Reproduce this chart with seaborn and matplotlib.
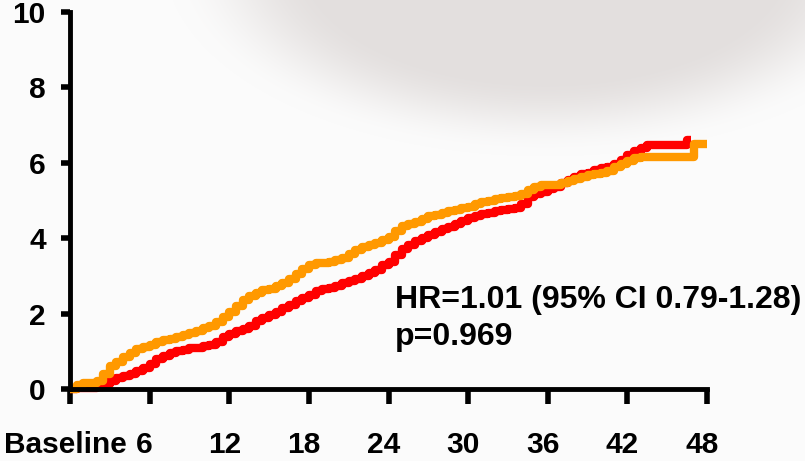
import numpy as np
import pandas as pd
import matplotlib
matplotlib.use("Agg")
import matplotlib.pyplot as plt
import matplotlib.transforms as mtransforms
import seaborn as sns

# Cumulative incidence (%) by month for the two treatment arms
months_a = [0, 0.5, 1, 1.5, 2, 2.5, 3, 3.5, 4, 4.5, 5, 5.5, 6, 6.5, 7, 7.5, 8, 8.5,
            9, 9.5, 10, 10.5, 11, 11.5, 12, 12.5, 13, 13.5, 14, 14.5, 15, 15.5,
            16, 16.5, 17, 17.5, 18, 18.5, 19, 19.5, 20, 20.5, 21, 21.5, 22, 22.5,
            23, 23.5, 24, 24.5, 25, 25.5, 26, 26.5, 27, 27.5, 28, 28.5, 29, 29.5,
            30, 30.5, 31, 31.5, 32, 32.5, 33, 33.5, 34, 34.5, 35, 35.5, 36, 36.5,
            37, 37.5, 38, 38.5, 39, 39.5, 40, 40.5, 41, 41.5, 42, 42.5, 43, 43.5,
            44, 44.5, 45, 45.5, 46, 46.5, 46.8]
incidence_a = [0.00, 0.02, 0.03, 0.03, 0.05, 0.14, 0.22, 0.28, 0.34, 0.41, 0.48, 0.56,
               0.67, 0.79, 0.88, 0.95, 1.00, 1.04, 1.08, 1.10, 1.13, 1.16, 1.24, 1.37,
               1.46, 1.53, 1.59, 1.68, 1.80, 1.88, 1.96, 2.04, 2.14, 2.24, 2.33, 2.41,
               2.49, 2.60, 2.65, 2.67, 2.72, 2.80, 2.86, 2.92, 2.99, 3.08, 3.16, 3.28,
               3.38, 3.55, 3.72, 3.82, 3.92, 4.00, 4.08, 4.16, 4.24, 4.31, 4.38, 4.46,
               4.53, 4.60, 4.65, 4.68, 4.72, 4.75, 4.78, 4.81, 4.90, 5.08, 5.16, 5.22,
               5.30, 5.35, 5.47, 5.55, 5.62, 5.69, 5.74, 5.80, 5.85, 5.90, 5.98, 6.08,
               6.20, 6.30, 6.40, 6.46, 6.47, 6.47, 6.47, 6.47, 6.47, 6.60, 6.60]

months_b = [0, 0.5, 1, 1.5, 2, 2.5, 3, 3.5, 4, 4.5, 5, 5.5, 6, 6.5, 7, 7.5, 8, 8.5,
            9, 9.5, 10, 10.5, 11, 11.5, 12, 12.5, 13, 13.5, 14, 14.5, 15, 15.5,
            16, 16.5, 17, 17.5, 18, 18.5, 19, 19.5, 20, 20.5, 21, 21.5, 22, 22.5,
            23, 23.5, 24, 24.5, 25, 25.5, 26, 26.5, 27, 27.5, 28, 28.5, 29, 29.5,
            30, 30.5, 31, 31.5, 32, 32.5, 33, 33.5, 34, 34.5, 35, 35.5, 36, 36.5,
            37, 37.5, 38, 38.5, 39, 39.5, 40, 40.5, 41, 41.5, 42, 42.5, 43, 43.5,
            44, 44.5, 45, 45.5, 46, 46.5, 47, 47.5, 48]
incidence_b = [0.00, 0.10, 0.16, 0.16, 0.20, 0.40, 0.60, 0.72, 0.85, 0.96, 1.05, 1.12,
               1.18, 1.24, 1.29, 1.33, 1.39, 1.44, 1.49, 1.55, 1.61, 1.67, 1.78, 1.92,
               2.04, 2.20, 2.36, 2.46, 2.55, 2.62, 2.66, 2.72, 2.82, 2.92, 3.04, 3.18,
               3.29, 3.34, 3.34, 3.36, 3.41, 3.48, 3.58, 3.70, 3.77, 3.82, 3.88, 3.95,
               4.03, 4.20, 4.32, 4.38, 4.44, 4.52, 4.58, 4.62, 4.66, 4.71, 4.75, 4.79,
               4.84, 4.90, 4.95, 4.99, 5.03, 5.06, 5.10, 5.13, 5.18, 5.28, 5.37, 5.40,
               5.41, 5.42, 5.47, 5.53, 5.58, 5.63, 5.67, 5.70, 5.74, 5.78, 5.88, 5.98,
               6.06, 6.12, 6.15, 6.15, 6.15, 6.15, 6.15, 6.15, 6.15, 6.15, 6.50, 6.50,
               6.50]

arm_names = ["Arm A", "Arm B"]
arm_colors = ["#FF0000", "#FF9900"]

tick_positions = [0, 6, 12, 18, 24, 30, 36, 42, 48]
tick_labels = ["Baseline", "6", "12", "18", "24", "30", "36", "42", "48"]
y_ticks = [0, 2, 4, 6, 8, 10]

hr_text = "HR=1.01 (95% CI 0.79-1.28)"
p_text = "p=0.969"

df = pd.concat([
    pd.DataFrame({"month": months_a, "incidence": incidence_a, "arm": arm_names[0]}),
    pd.DataFrame({"month": months_b, "incidence": incidence_b, "arm": arm_names[1]}),
], ignore_index=True)

sns.set_style("ticks")
plt.rcParams["font.family"] = ["Liberation Sans", "DejaVu Sans"]
plt.rcParams["font.weight"] = "bold"

W, H, DPI = 805, 461, 100
fig = plt.figure(figsize=(W / DPI, H / DPI), dpi=DPI)

# Soft grey backdrop shape along the top edge
yy, xx = np.mgrid[0:H, 0:W]
dist = np.sqrt(((xx - 545) / 340.0) ** 2 + ((yy + 40) / 175.0) ** 2)
a = np.clip((1.12 - dist) / 0.45, 0, 1)
a = a * a * (3 - 2 * a)
base = np.array([251, 251, 251], float)
blob = np.array([227, 223, 222], float)
bg = base[None, None, :] * (1 - a[..., None]) + blob[None, None, :] * a[..., None]
fig.figimage(bg.astype(np.uint8), xo=0, yo=0, origin="upper", zorder=-5)

ax = fig.add_axes([70 / W, 1 - 389 / H, (707 - 70) / W, (389 - 12) / H], zorder=2)
ax.set_facecolor("none")

sns.lineplot(data=df, x="month", y="incidence", hue="arm", hue_order=arm_names,
             palette=dict(zip(arm_names, arm_colors)), estimator=None, sort=False,
             drawstyle="steps-post", linewidth=6, legend=False, ax=ax)
for line in ax.get_lines():
    line.set_clip_on(False)
    line.set_solid_capstyle("butt")

ax.set_xlim(0, 48)
ax.set_ylim(0, 10)
ax.set_xticks(tick_positions)
ax.set_xticklabels(tick_labels)
ax.set_yticks(y_ticks)
ax.set_xlabel("")
ax.set_ylabel("")

sns.despine(ax=ax)
for side in ("left", "bottom"):
    ax.spines[side].set_linewidth(3.5)
    ax.spines[side].set_color("black")

ax.tick_params(axis="x", direction="out", length=11, width=4, pad=19,
               labelsize=21.5, colors="black")
ax.tick_params(axis="y", direction="out", length=6.5, width=4, pad=11,
               labelsize=21.5, colors="black")
for lab in ax.get_xticklabels() + ax.get_yticklabels():
    lab.set_fontweight("bold")
shift = mtransforms.ScaledTranslation(-5 / DPI, 0, fig.dpi_scale_trans)
for lab in ax.get_xticklabels():
    lab.set_transform(lab.get_transform() + shift)

ax.text(24.5, 2.16, hr_text, fontsize=23, fontweight="bold", ha="left",
        va="baseline", color="black")
ax.text(24.5, 1.18, p_text, fontsize=23, fontweight="bold", ha="left",
        va="baseline", color="black")

fig.savefig("out.png", dpi=DPI, facecolor=fig.get_facecolor())
